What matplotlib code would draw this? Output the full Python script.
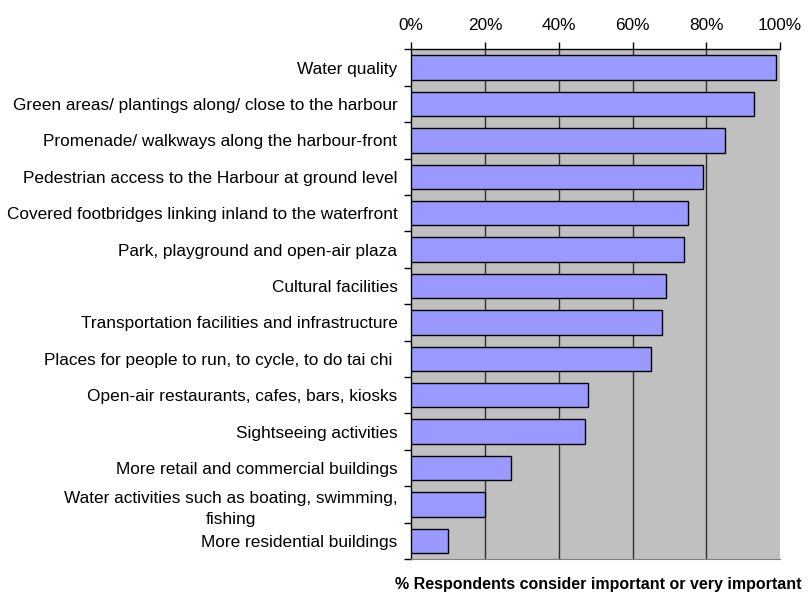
import numpy as np
import matplotlib
matplotlib.use('Agg')
import matplotlib.pyplot as plt
from matplotlib.ticker import PercentFormatter

plt.rcParams['font.family'] = ['Liberation Sans', 'DejaVu Sans']

# survey items, top to bottom
items = [
    'Water quality',
    'Green areas/ plantings along/ close to the harbour',
    'Promenade/ walkways along the harbour-front',
    'Pedestrian access to the Harbour at ground level',
    'Covered footbridges linking inland to the waterfront',
    'Park, playground and open-air plaza',
    'Cultural facilities',
    'Transportation facilities and infrastructure',
    'Places for people to run, to cycle, to do tai chi ',
    'Open-air restaurants, cafes, bars, kiosks',
    'Sightseeing activities',
    'More retail and commercial buildings',
    'Water activities such as boating, swimming,\nfishing',
    'More residential buildings',
]
# % respondents rating important / very important
pct_important = [99, 93, 85, 79, 75, 74, 69, 68, 65, 48, 47, 27, 20, 10]
x_ticks = [0, 20, 40, 60, 80, 100]

fig = plt.figure(figsize=(8.09, 5.94), dpi=100)
ax = fig.add_axes([411.3/809, 1-559/594, (780-411.3)/809, (559-49.3)/594])
ax.set_facecolor('#C0C0C0')

y = np.arange(len(items))
ax.barh(y, pct_important, height=0.67, color='#9999FF', edgecolor='black', linewidth=1.0, zorder=3)

ax.set_xlim(0, 100)
ax.set_ylim(len(items) - 0.5, -0.5)

# x axis on top, with vertical gridlines
ax.xaxis.tick_top()
ax.set_xticks(x_ticks)
ax.xaxis.set_major_formatter(PercentFormatter(decimals=0))
ax.tick_params(axis='x', direction='out', length=5, width=1, pad=7, labelsize=12.4)
for v in x_ticks[1:-1]:
    ax.axvline(v, color='#303030', linewidth=1.0, zorder=1)

# category ticks sit between bars, labels centred on bars
ax.set_yticks(np.arange(len(items) + 1) - 0.5)
ax.set_yticks(y, minor=True)
ax.set_yticklabels([])
ax.set_yticklabels(items, minor=True, fontsize=12.4, ha='right', multialignment='center', linespacing=1.55)
ax.tick_params(axis='y', which='major', direction='out', length=5, width=1)
ax.tick_params(axis='y', which='minor', length=0, pad=10)

for side in ['top', 'left']:
    ax.spines[side].set_color('black')
    ax.spines[side].set_linewidth(1.0)
ax.spines['right'].set_visible(False)
ax.spines['bottom'].set_color('#808080')

fig.text(598/809, 1-585/594, '% Respondents consider important or very important',
         ha='center', va='center', fontsize=11.5, fontweight='bold')

fig.savefig('out.png', dpi=100)
